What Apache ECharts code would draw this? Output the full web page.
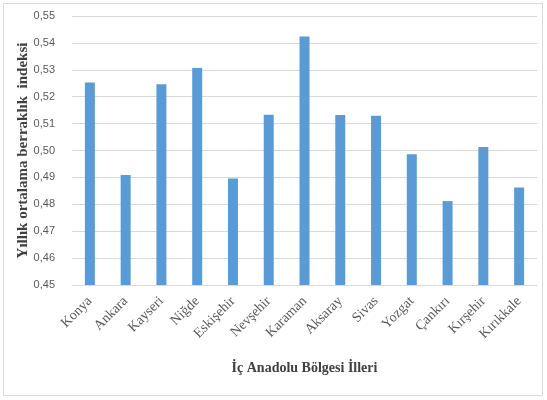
<!DOCTYPE html>
<html><head><meta charset="utf-8">
<script src="https://cdn.jsdelivr.net/npm/echarts@6/dist/echarts.min.js"></script>
<style>html,body{margin:0;padding:0;background:#fff}#c{width:547px;height:400px}</style>
</head><body><div id="c"></div>
<script>
const categories = ['Konya','Ankara','Kayseri','Niğde','Eskişehir','Nevşehir','Karaman','Aksaray','Sivas','Yozgat','Çankırı','Kırşehir','Kırıkkale'];
const values = [0.5253,0.4909,0.5246,0.5307,0.4896,0.5133,0.5424,0.5132,0.5129,0.4986,0.4812,0.5013,0.4862];
const yMin = 0.45, yMax = 0.55, yStep = 0.01;
const xTitle = 'İç Anadolu Bölgesi İlleri';
const yTitle = 'Yıllık ortalama berraklık  indeksi';

const chart = echarts.init(document.getElementById('c'), null, {renderer:'canvas'});
chart.setOption({
  animation:false,
  graphic:[{type:'rect',shape:{x:3.5,y:3.5,width:539,height:392},style:{fill:'none',stroke:'#d9d9d9',lineWidth:1}}],
  grid:{left:72,right:10,top:16,bottom:115},
  xAxis:{type:'category',data:categories,
    axisLine:{lineStyle:{color:'#d9d9d9'}},axisTick:{show:false},
    axisLabel:{rotate:45,interval:0,margin:14,color:'#595959',fontFamily:'Liberation Serif',fontSize:14},
    name:xTitle,nameLocation:'middle',nameGap:76,nameMoveOverlap:false,
    nameTextStyle:{fontFamily:'Liberation Serif',fontWeight:'bold',fontSize:14,color:'#404040'}},
  yAxis:{type:'value',min:yMin,max:yMax,interval:yStep,
    axisLine:{show:false},axisTick:{show:false},
    splitLine:{lineStyle:{color:'#d9d9d9'}},
    axisLabel:{margin:17,color:'#595959',fontFamily:'Liberation Sans',fontSize:11,
      formatter:v=>v.toFixed(2).replace('.',',')},
    name:yTitle,nameLocation:'middle',nameGap:41,nameMoveOverlap:false,
    nameTextStyle:{fontFamily:'Liberation Serif',fontWeight:'bold',fontSize:15,color:'#404040'}},
  series:[{type:'bar',data:values,barWidth:10,itemStyle:{color:'#5B9BD5'}}]
});
</script></body></html>
